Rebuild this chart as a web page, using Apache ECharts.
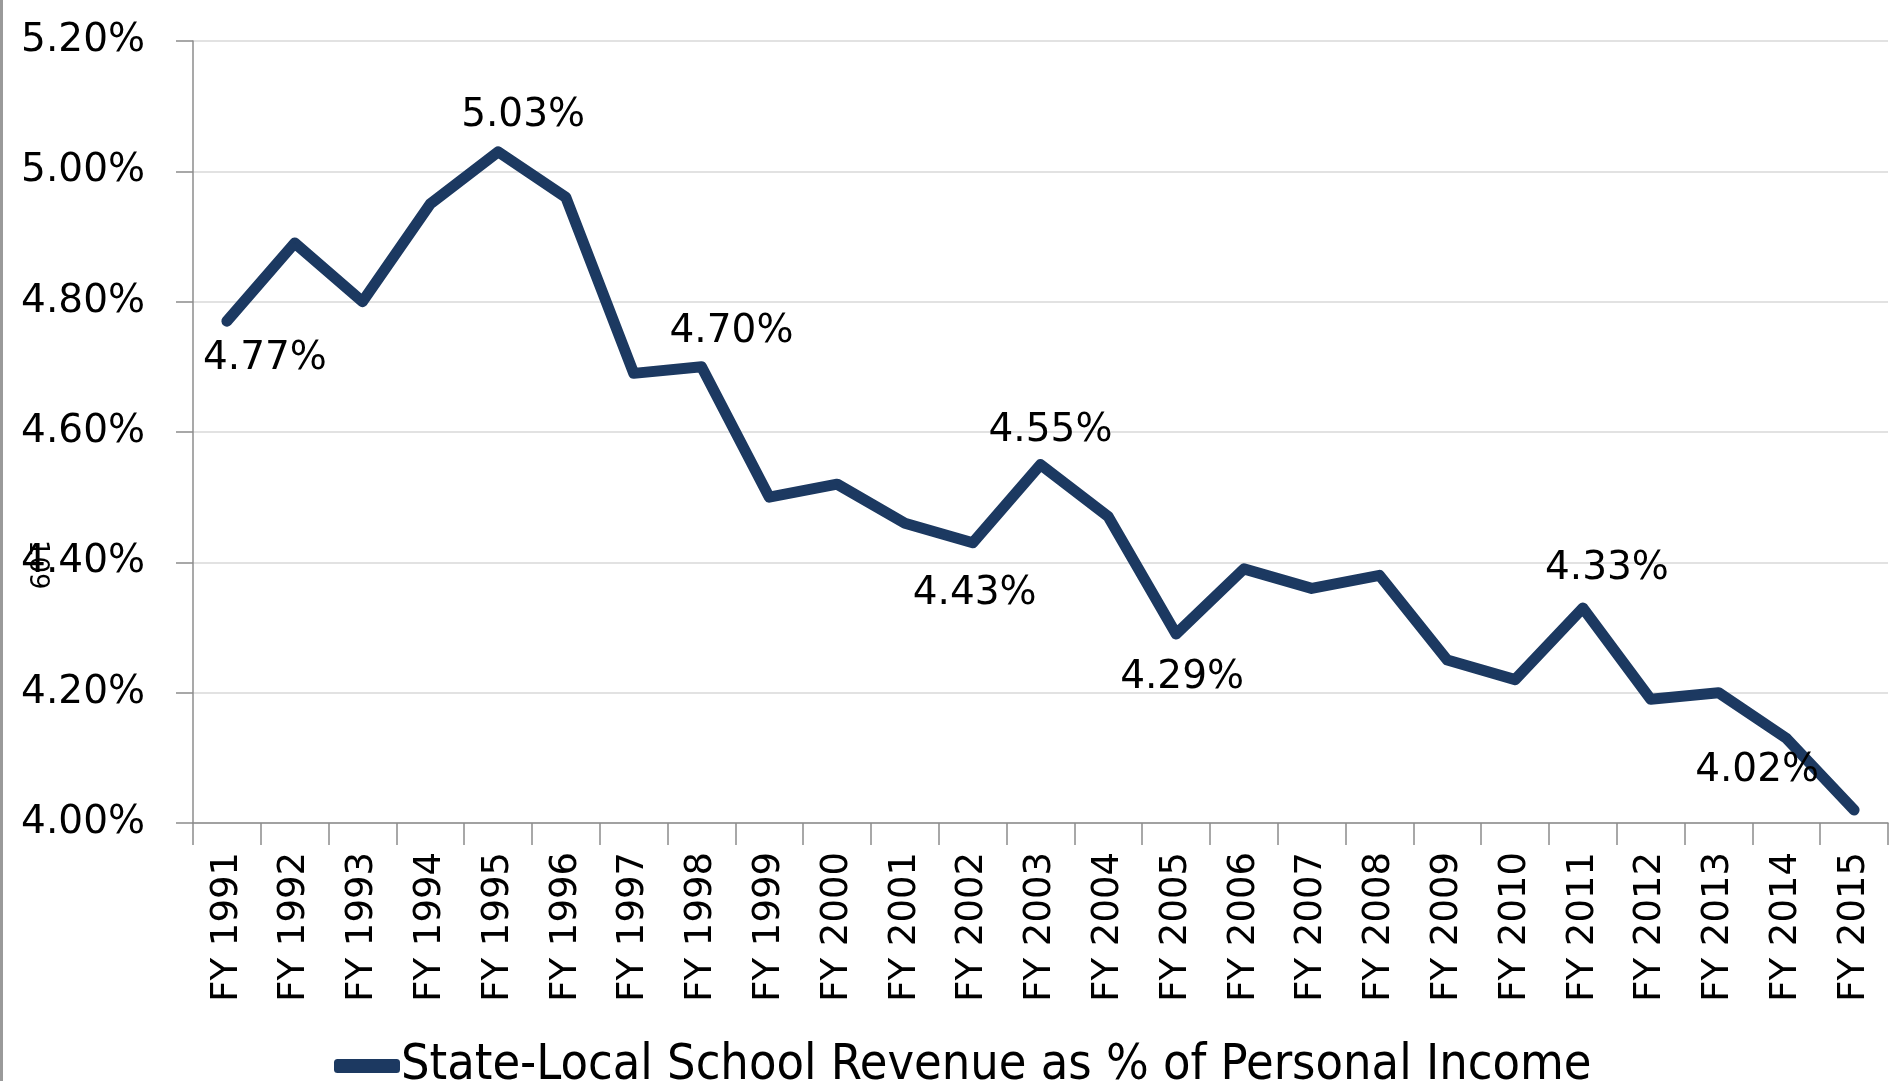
<!DOCTYPE html>
<html>
<head>
<meta charset="utf-8">
<script src="https://cdn.jsdelivr.net/npm/echarts@6/dist/echarts.min.js"></script>
<style>
html, body { margin: 0; padding: 0; background: #fff; }
#main { width: 1895px; height: 1081px; }
</style>
</head>
<body>
<div id="main"></div>
<script>
// 数据
var years = ['FY 1991', 'FY 1992', 'FY 1993', 'FY 1994', 'FY 1995', 'FY 1996', 'FY 1997',
  'FY 1998', 'FY 1999', 'FY 2000', 'FY 2001', 'FY 2002', 'FY 2003', 'FY 2004', 'FY 2005',
  'FY 2006', 'FY 2007', 'FY 2008', 'FY 2009', 'FY 2010', 'FY 2011', 'FY 2012', 'FY 2013',
  'FY 2014', 'FY 2015'];
var revenuePct = [4.77, 4.89, 4.80, 4.95, 5.03, 4.96, 4.69, 4.70, 4.50, 4.52, 4.46, 4.43,
  4.55, 4.47, 4.29, 4.39, 4.36, 4.38, 4.25, 4.22, 4.33, 4.19, 4.20, 4.13, 4.02];
var labelledYears = ['FY 1991', 'FY 1995', 'FY 1998', 'FY 2002', 'FY 2003', 'FY 2005', 'FY 2011', 'FY 2015'];
var yMin = 4.0, yMax = 5.2, yStep = 0.2;
var seriesName = 'State-Local School Revenue as % of Personal Income';

// 标签相对数据点的偏移 (样式)
var labelOffset = {
  'FY 1991': [38, 38],
  'FY 1995': [25, -36],
  'FY 1998': [30, -35],
  'FY 2002': [2, 51],
  'FY 2003': [10, -34],
  'FY 2005': [6, 44],
  'FY 2011': [24, -39],
  'FY 2015': [-97, -39]
};

var lineColor = '#1c3961';
var font = 'DejaVu Sans';
var symSize = 2;

var seriesData = years.map(function (y, i) {
  var item = { value: revenuePct[i] };
  if (labelledYears.indexOf(y) >= 0) {
    var off = labelOffset[y];
    item.label = {
      show: true,
      position: [off[0] + symSize / 2, off[1] + symSize / 2],
      align: 'center',
      verticalAlign: 'middle'
    };
  }
  return item;
});

var myChart = echarts.init(document.getElementById('main'));

var option = {
  backgroundColor: '#fff',
  animation: false,
  grid: { left: 193, right: 7, top: 41, bottom: 258 },
  legend: {
    left: 329,
    top: 1036,
    itemWidth: 66,
    itemHeight: 14,
    icon: 'roundRect',
    data: [seriesName],
    textStyle: {
      fontFamily: 'Liberation Sans Narrow, DejaVu Sans Condensed, Liberation Sans, sans-serif',
      fontSize: 50,
      color: '#000',
      padding: [0, 0, 0, -4]
    }
  },
  xAxis: {
    type: 'category',
    data: years,
    boundaryGap: true,
    axisLine: { lineStyle: { color: '#8c8c8c', width: 1.5 } },
    axisTick: { show: true, length: 22, alignWithLabel: false, lineStyle: { color: '#8c8c8c', width: 1.5 } },
    axisLabel: {
      rotate: 90,
      margin: 29,
      interval: 0,
      fontFamily: font,
      fontSize: 37,
      color: '#000'
    },
    splitLine: { show: false }
  },
  yAxis: {
    type: 'value',
    min: yMin,
    max: yMax,
    interval: yStep,
    axisLine: { show: true, lineStyle: { color: '#8c8c8c', width: 1.5 } },
    axisTick: { show: true, length: 17, lineStyle: { color: '#8c8c8c', width: 1.5 } },
    axisLabel: {
      margin: 48,
      fontFamily: font,
      fontSize: 39,
      color: '#000',
      formatter: function (v) { return v.toFixed(2) + '%'; }
    },
    splitLine: { show: true, lineStyle: { color: '#d9d9d9', width: 1.5 } }
  },
  graphic: [
    { type: 'rect', left: 0, top: 0, shape: { width: 3, height: 1081 }, style: { fill: '#9a9a9a' } },
    {
      type: 'text', x: 50, y: 540, rotation: -Math.PI / 2,
      style: { text: '109', fontFamily: font, fontSize: 26, fill: '#000' }
    }
  ],
  series: [{
    name: seriesName,
    type: 'line',
    data: seriesData,
    symbol: 'circle',
    symbolSize: symSize,
    showSymbol: true,
    itemStyle: { color: lineColor },
    lineStyle: { color: lineColor, width: 11, cap: 'round', join: 'round' },
    label: {
      show: false,
      fontFamily: font,
      fontSize: 39,
      color: '#000',
      formatter: function (p) { return p.value.toFixed(2) + '%'; }
    },
    labelLayout: { hideOverlap: false }
  }]
};

myChart.setOption(option);
window.onresize = myChart.resize;
</script>
</body>
</html>
